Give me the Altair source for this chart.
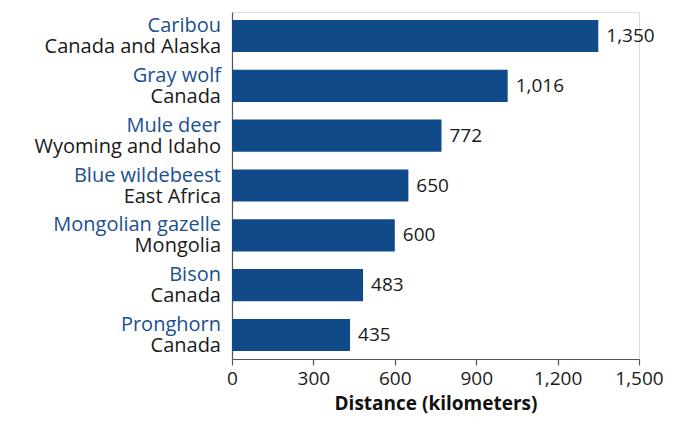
import altair as alt
import pandas as pd

animals = ["Caribou", "Gray wolf", "Mule deer", "Blue wildebeest", "Mongolian gazelle", "Bison", "Pronghorn"]
regions = ["Canada and Alaska", "Canada", "Wyoming and Idaho", "East Africa", "Mongolia", "Canada", "Canada"]
distances = [1350, 1016, 772, 650, 600, 483, 435]
x_ticks = [0, 300, 600, 900, 1200, 1500]

df = pd.DataFrame({"animal": animals, "region": regions, "distance": distances})

FONT = "Open Sans"
FS = 19
LFS = 20
BAR = "#114a89"
NAME = "#1c4f8f"

y = alt.Y("animal:N", sort=animals, title=None,
          scale=alt.Scale(paddingInner=0.355, paddingOuter=0.16),
          axis=alt.Axis(labels=False, ticks=False, domain=True, domainColor="#555555", domainWidth=1.2, grid=False))

x = alt.X("distance:Q", title="Distance (kilometers)",
          scale=alt.Scale(domain=[0, 1500], nice=False),
          axis=alt.Axis(values=x_ticks, format=",.0f", grid=False, domainColor="#555555", domainWidth=1.2,
                        tickColor="#555555", tickSize=6, tickWidth=1.2, labelFontSize=FS, labelColor="#1a1a1a",
                        labelFont=FONT, labelPadding=4, labelFlush=False, labelOverlap=False, labelBound=False,
                        titleFont=FONT, titleFontSize=FS, titleFontWeight="bold",
                        titleColor="#111111", titlePadding=6))

bars = alt.Chart(df).mark_bar(color=BAR).encode(x=x, y=y)

values = alt.Chart(df).mark_text(align="left", baseline="middle", dx=8, fontSize=FS, font=FONT, color="#1a1a1a").encode(
    x="distance:Q", y=alt.Y("animal:N", sort=animals),
    text=alt.Text("distance:Q", format=",.0f"))

names = alt.Chart(df).mark_text(align="right", baseline="alphabetic", dy=-4, fontSize=LFS, font=FONT, color=NAME).encode(
    x=alt.value(-11), y=alt.Y("animal:N", sort=animals), text="animal:N")

regs = alt.Chart(df).mark_text(align="right", baseline="alphabetic", dy=17, fontSize=LFS, font=FONT, color="#1a1a1a").encode(
    x=alt.value(-11), y=alt.Y("animal:N", sort=animals), text="region:N")

chart = alt.layer(bars, values, names, regs).properties(
    width=407, height=347,
    autosize=alt.AutoSizeParams(type="none"),
    padding={"left": 224, "top": 4, "right": 30, "bottom": 70},
).configure_view(stroke=None).configure(background="white")

chart.save("out.html", embed_options={"renderer": "svg", "actions": False})
